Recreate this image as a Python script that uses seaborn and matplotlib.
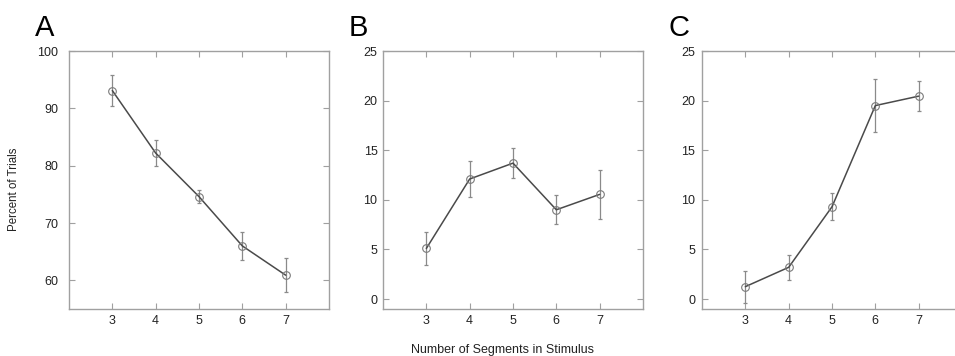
import matplotlib
matplotlib.use("Agg")
import matplotlib.pyplot as plt
import seaborn as sns
import pandas as pd

segments = [3, 4, 5, 6, 7]
pct_a = [93.1, 82.2, 74.6, 66.0, 60.9]
err_a = [2.7, 2.2, 1.15, 2.5, 3.0]
pct_b = [5.1, 12.1, 13.7, 9.0, 10.55]
err_b = [1.65, 1.8, 1.5, 1.45, 2.5]
pct_c = [1.25, 3.2, 9.3, 19.5, 20.45]
err_c = [1.6, 1.25, 1.35, 2.65, 1.5]

panel_letters = ["A", "B", "C"]
ylims = [(55, 100), (-1, 25), (-1, 25)]
yticks = [[60, 70, 80, 90, 100], [0, 5, 10, 15, 20, 25], [0, 5, 10, 15, 20, 25]]
xlabel = "Number of Segments in Stimulus"
ylabel = "Percent of Trials"

sns.set_theme(style="white")
plt.rcParams["font.family"] = ["Liberation Sans", "DejaVu Sans"]

W, H = 955, 356
fig = plt.figure(figsize=(W / 100, H / 100), dpi=100)

lefts = [69, 383, 702]
axw, top, bottom = 260, 51, 309
ypads = [8, 4, 5]
spine_col = "#a0a0a0"
series = [(pct_a, err_a), (pct_b, err_b), (pct_c, err_c)]

for i, (vals, errs) in enumerate(series):
    ax = fig.add_axes([lefts[i] / W, (H - bottom) / H, axw / W, (bottom - top) / H])
    df = pd.DataFrame({"seg": segments, "pct": vals})
    ax.errorbar(segments, vals, yerr=errs, fmt="none", ecolor="#8a8a8a",
                elinewidth=0.9, capsize=1.6, capthick=0.9, zorder=1)
    sns.lineplot(data=df, x="seg", y="pct", ax=ax, color="#4a4a4a", linewidth=1.1,
                 marker="o", markersize=5.5, markerfacecolor="none",
                 markeredgecolor="#7a7a7a", markeredgewidth=0.8, zorder=2)
    ax.set_xlim(2, 8)
    ax.set_ylim(*ylims[i])
    ax.set_xticks(segments)
    ax.set_yticks(yticks[i])
    ax.set_xlabel("")
    ax.set_ylabel("")
    for s in ax.spines.values():
        s.set_color(spine_col)
        s.set_linewidth(1.0)
    ax.tick_params(axis="both", which="both", direction="in", length=4, width=0.8,
                   color=spine_col, top=True, right=True, bottom=True, left=True,
                   labelsize=9, labelcolor="#222222")
    ax.tick_params(axis="x", pad=4.5)
    ax.tick_params(axis="y", pad=ypads[i])
    ax.grid(False)
    fig.text((lefts[i] - 34) / W, 1 - 36 / H, panel_letters[i], fontsize=21,
             va="baseline", ha="left", color="black")

fig.text(502 / W, 1 - 350 / H, xlabel, ha="center", va="center", fontsize=9,
         color="#222222")
fig.text(14 / W, 1 - 189 / H, ylabel, ha="center", va="center", rotation=90,
         fontsize=8.3, color="#222222")

fig.savefig("out.png", dpi=100)
